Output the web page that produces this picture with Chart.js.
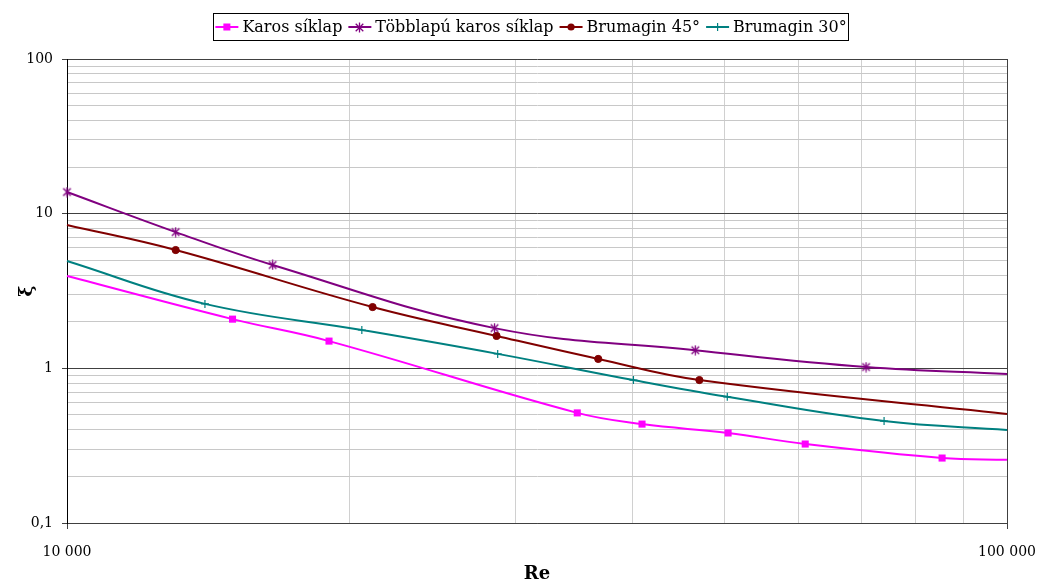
<!DOCTYPE html>
<html>
<head>
<meta charset="utf-8">
<script src="https://cdn.jsdelivr.net/npm/chart.js@4.4.1/dist/chart.umd.min.js"></script>
<style>
  html, body { margin: 0; padding: 0; background: #ffffff; }
  #wrap { width: 1039px; height: 583px; position: relative; }
</style>
</head>
<body>
<div id="wrap"><canvas id="c" width="1039" height="583"></canvas></div>
<script>
// Loss coefficient ξ versus Reynolds number for four damper types
const seriesNames = ['Karos síklap', 'Többlapú karos síklap', 'Brumagin 45°', 'Brumagin 30°'];

// Karos síklap
const karosRe       = [10000, 15000, 19000, 34900, 40900, 50500, 61000, 85300, 100000];
const karosXi       = [3.95, 2.08, 1.50, 0.515, 0.436, 0.382, 0.324, 0.263, 0.256];
const karosMeasured = [0, 1, 1, 1, 1, 1, 1, 1, 0];

// Többlapú karos síklap
const tobbRe       = [10000, 13050, 16550, 28500, 46600, 70800, 100000];
const tobbXi       = [13.8, 7.6, 4.66, 1.82, 1.31, 1.02, 0.92];
const tobbMeasured = [1, 1, 1, 1, 1, 1, 0];

// Brumagin 45°
const brum45Re       = [10000, 13050, 21140, 28640, 36740, 47070, 100000];
const brum45Xi       = [8.45, 5.82, 2.49, 1.62, 1.15, 0.84, 0.507];
const brum45Measured = [0, 1, 1, 1, 1, 1, 0];

// Brumagin 30°
const brum30Re       = [10000, 14020, 20590, 28720, 40050, 50400, 74000, 100000];
const brum30Xi       = [4.94, 2.61, 1.77, 1.24, 0.84, 0.654, 0.456, 0.40];
const brum30Measured = [0, 1, 1, 1, 1, 1, 1, 0];

// Labelled ticks
const xTickValues = [10000, 100000];
const xTickLabels = ['10 000', '100 000'];
const yTickValues = [0.1, 1, 10, 100];
const yTickLabels = ['0,1', '1', '10', '100'];

const FONT = "'DejaVu Serif', serif";

function isDecade(v) {
  const e = Math.log10(v);
  return Math.abs(e - Math.round(e)) < 1e-6;
}
function labelFor(v, values, labels) {
  for (let i = 0; i < values.length; i++) {
    if (Math.abs(v - values[i]) / values[i] < 1e-6) return labels[i];
  }
  return '';
}
function toPoints(xs, ys) {
  return xs.map((x, i) => ({ x: x, y: ys[i] }));
}
// 1..9 × 10^k grid between the axis bounds
function logGridTicks(scale) {
  const out = [];
  const e0 = Math.floor(Math.log10(scale.min) + 1e-9);
  const e1 = Math.ceil(Math.log10(scale.max) - 1e-9);
  for (let e = e0; e <= e1; e++) {
    for (let s = 1; s <= 9; s++) {
      const v = parseFloat((s * Math.pow(10, e)).toPrecision(6));
      if (v >= scale.min * (1 - 1e-9) && v <= scale.max * (1 + 1e-9)) out.push({ value: v, major: s === 1 });
    }
  }
  scale.ticks = out;
}

// Asterisk marker: an X crossed by a vertical stroke
function asteriskMarker(color) {
  const s = 11;
  const c = document.createElement('canvas');
  c.width = s; c.height = s;
  const g = c.getContext('2d');
  g.strokeStyle = color;
  g.lineWidth = 1.3;
  const m = s / 2;
  g.beginPath();
  g.moveTo(m, 0.5); g.lineTo(m, s - 0.5);
  g.moveTo(m - 3.8, m - 3.8); g.lineTo(m + 3.8, m + 3.8);
  g.moveTo(m + 3.8, m - 3.8); g.lineTo(m - 3.8, m + 3.8);
  g.stroke();
  return c;
}

const colors = ['#ff00ff', '#800080', '#800000', '#008080'];
const asterisk = asteriskMarker(colors[1]);

function makeDataset(idx, xs, ys, measured, style, radius, borderWidth) {
  return {
    label: seriesNames[idx],
    data: toPoints(xs, ys),
    borderColor: colors[idx],
    backgroundColor: colors[idx],
    borderWidth: 2,
    tension: 0.4,
    fill: false,
    clip: false,
    pointStyle: style,
    pointBackgroundColor: colors[idx],
    pointBorderColor: colors[idx],
    pointBorderWidth: borderWidth,
    pointRadius: ctx => measured[ctx.dataIndex] ? radius : 0,
    pointHoverRadius: ctx => measured[ctx.dataIndex] ? radius : 0
  };
}

const datasets = [
  makeDataset(0, karosRe, karosXi, karosMeasured, 'rect', 5, 0),
  makeDataset(1, tobbRe, tobbXi, tobbMeasured, asterisk, 5, 1),
  makeDataset(2, brum45Re, brum45Xi, brum45Measured, 'circle', 3.6, 1),
  makeDataset(3, brum30Re, brum30Xi, brum30Measured, 'cross', 4, 1.2)
];

// Marker drawing for the framed legend
function drawLegendMarker(ctx, ds, x, y) {
  const col = ds.borderColor;
  ctx.save();
  ctx.fillStyle = col;
  ctx.strokeStyle = col;
  if (ds.pointStyle instanceof HTMLCanvasElement) {
    ctx.drawImage(ds.pointStyle, Math.round(x - ds.pointStyle.width / 2), Math.round(y - ds.pointStyle.height / 2));
  } else if (ds.pointStyle === 'rect') {
    ctx.fillRect(x - 3.5, y - 3.5, 7, 7);
  } else if (ds.pointStyle === 'circle') {
    ctx.beginPath();
    ctx.arc(x, y, 3.6, 0, Math.PI * 2);
    ctx.fill();
  } else if (ds.pointStyle === 'cross') {
    ctx.lineWidth = 1.2;
    ctx.beginPath();
    ctx.moveTo(x - 4, y); ctx.lineTo(x + 4, y);
    ctx.moveTo(x, y - 4); ctx.lineTo(x, y + 4);
    ctx.stroke();
  }
  ctx.restore();
}

const framedLegend = {
  id: 'framedLegend',
  afterDraw(chart) {
    const ctx = chart.ctx;
    const sets = chart.data.datasets;
    ctx.save();
    ctx.font = '16px ' + FONT;
    const iconW = 23, gapText = 4, gapItem = 6, pad = 2;
    const widths = sets.map(ds => iconW + gapText + ctx.measureText(ds.label).width);
    const total = widths.reduce((a, b) => a + b, 0) + gapItem * (sets.length - 1);
    const centerX = 531;
    const top = 13, bottom = 40, cy = 27;
    let x = centerX - total / 2;
    ctx.strokeStyle = '#000';
    ctx.lineWidth = 1;
    ctx.strokeRect(Math.round(x - pad) + 0.5, top + 0.5, Math.round(total + 2 * pad), bottom - top);
    ctx.textBaseline = 'middle';
    ctx.textAlign = 'left';
    sets.forEach((ds, i) => {
      ctx.strokeStyle = ds.borderColor;
      ctx.lineWidth = 2;
      ctx.beginPath();
      ctx.moveTo(x, cy);
      ctx.lineTo(x + iconW, cy);
      ctx.stroke();
      drawLegendMarker(ctx, ds, x + iconW / 2, cy);
      ctx.fillStyle = '#000';
      ctx.fillText(ds.label, x + iconW + gapText, cy + 1);
      x += widths[i] + gapItem;
    });
    ctx.restore();
  }
};

new Chart(document.getElementById('c'), {
  type: 'line',
  data: { datasets: datasets },
  plugins: [framedLegend],
  options: {
    responsive: false,
    animation: false,
    devicePixelRatio: 1,
    layout: { padding: { top: 59, right: 32, left: 0, bottom: 0 } },
    plugins: {
      legend: { display: false },
      tooltip: { enabled: false }
    },
    scales: {
      x: {
        type: 'logarithmic',
        position: 'bottom',
        min: 10000,
        max: 100000,
        afterBuildTicks: logGridTicks,
        afterFit(scale) { scale.height = 60; scale.paddingLeft = 0; scale.paddingRight = 0; },
        border: { color: '#404040', width: 1 },
        grid: {
          lineWidth: 1,
          color: ctx => (ctx.tick && isDecade(ctx.tick.value)) ? '#404040' : '#d0d0d0',
          tickColor: ctx => (ctx.tick && isDecade(ctx.tick.value)) ? '#404040' : 'rgba(0,0,0,0)',
          tickLength: 6
        },
        ticks: {
          autoSkip: false,
          maxRotation: 0,
          padding: 15,
          color: '#000',
          font: { family: FONT, size: 14 },
          callback: v => labelFor(v, xTickValues, xTickLabels)
        },
        title: {
          display: true,
          text: 'Re',
          color: '#000',
          font: { family: FONT, size: 18, weight: 'bold', lineHeight: 1 },
          padding: { top: 0, bottom: 0 }
        }
      },
      y: {
        type: 'logarithmic',
        position: 'left',
        min: 0.1,
        max: 100,
        afterBuildTicks: logGridTicks,
        afterFit(scale) { scale.width = 67; scale.paddingTop = 0; scale.paddingBottom = 0; },
        border: { color: '#000', width: 1 },
        grid: {
          lineWidth: 1,
          color: ctx => (ctx.tick && isDecade(ctx.tick.value)) ? '#404040' : '#c8c8c8',
          tickColor: ctx => (ctx.tick && isDecade(ctx.tick.value)) ? '#404040' : 'rgba(0,0,0,0)',
          tickLength: 5
        },
        ticks: {
          autoSkip: false,
          padding: 9,
          color: '#000',
          font: { family: FONT, size: 14 },
          callback: v => labelFor(v, yTickValues, yTickLabels)
        },
        title: {
          display: true,
          text: 'ξ',
          color: '#000',
          font: { family: FONT, size: 19, weight: 'bold', lineHeight: 1.2 },
          padding: { top: 16, bottom: 0 }
        }
      }
    }
  }
});
</script>
</body>
</html>
